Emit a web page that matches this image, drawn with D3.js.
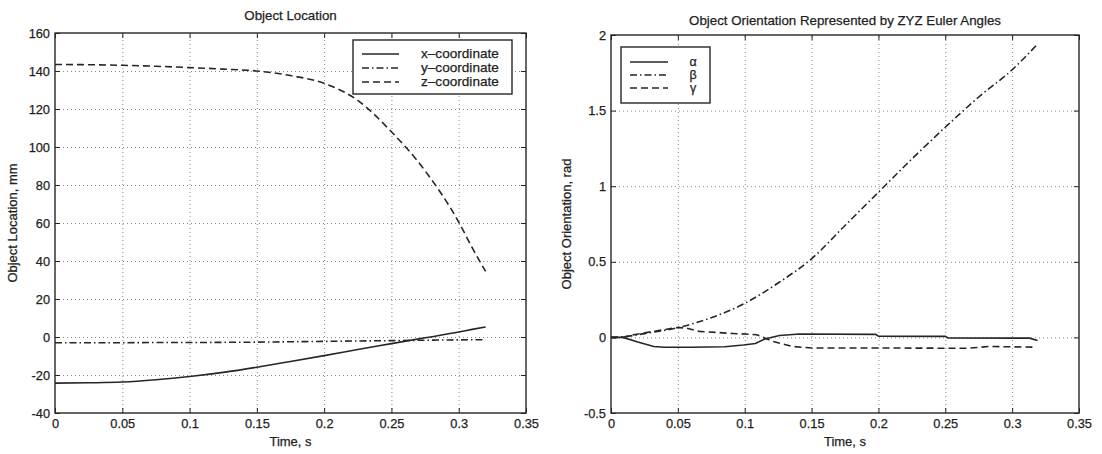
<!DOCTYPE html>
<html>
<head>
<meta charset="utf-8">
<script src="https://cdn.jsdelivr.net/npm/d3@7"></script>
<style>
  body{margin:0;background:#fff;}
  text{font-family:"Liberation Sans",Arial,Helvetica,sans-serif;fill:#1e1e1e;stroke:#1e1e1e;stroke-width:0.25;}
  .grid line{stroke:#888;stroke-dasharray:1,3;stroke-width:1;}
  .grid path{display:none;}
  .ax path{display:none;}
  .ax line{stroke:#222;stroke-width:1;}
</style>
</head>
<body>
<div id="chart"></div>
<script>
// ---- data: left panel (object location, mm) ----
const timeLoc = [0,0.025,0.05,0.075,0.1,0.125,0.15,0.175,0.2,0.225,0.25,0.275,0.3,0.31,0.32];
const xCoord  = [-24.3,-24.1,-23.7,-22.5,-20.8,-18.6,-15.9,-12.9,-9.8,-6.6,-3.5,-0.4,2.6,4.0,5.3];
const yCoord  = [-3.0,-3.0,-3.0,-2.9,-2.9,-2.8,-2.7,-2.5,-2.3,-2.1,-1.9,-1.7,-1.5,-1.45,-1.4];
const zCoord  = [143.4,143.3,143.0,142.5,141.8,141.0,140.0,137.6,133.5,124.5,108.0,87.5,60.5,47.0,34.5];

// ---- data: right panel (ZYZ Euler angles, rad) ----
const timeBeta = [0,0.01,0.025,0.05,0.075,0.1,0.125,0.15,0.175,0.2,0.225,0.25,0.275,0.3,0.318];
const beta     = [0,0.005,0.025,0.065,0.13,0.225,0.36,0.52,0.74,0.96,1.18,1.39,1.59,1.77,1.93];
const timeAlpha = [0,0.009,0.02,0.032,0.04,0.06,0.085,0.099,0.108,0.115,0.126,0.141,0.198,0.2,0.25,0.252,0.313,0.319];
const alpha     = [0,0,-0.03,-0.06,-0.065,-0.065,-0.062,-0.05,-0.04,-0.01,0.013,0.022,0.02,0.008,0.007,-0.004,-0.005,-0.02];
const timeGamma = [0,0.009,0.017,0.032,0.049,0.056,0.066,0.091,0.109,0.121,0.136,0.15,0.2,0.266,0.283,0.318];
const gamma     = [0,0,0.018,0.04,0.065,0.062,0.04,0.026,0.018,-0.027,-0.06,-0.07,-0.07,-0.072,-0.06,-0.065];

const xTicks = [0,0.05,0.1,0.15,0.2,0.25,0.3,0.35];
const yTicksLoc = [-40,-20,0,20,40,60,80,100,120,140,160];
const yTicksOri = [-0.5,0,0.5,1,1.5,2];

const legendLoc = ["x\u2013coordinate","y\u2013coordinate","z\u2013coordinate"];
const legendOri = ["\u03b1","\u03b2","\u03b3"];

const W = 1102, H = 454;
const dashes = {solid:null, dashdot:"7,3,1.5,3", dashed:"7,4"};
const ink = "#262626";

const svg = d3.select("#chart").append("svg").attr("width",W).attr("height",H);

function panel(opt){
  const g = svg.append("g");
  const x = d3.scaleLinear().domain([0,0.35]).range([opt.x0,opt.x1]);
  const y = d3.scaleLinear().domain(opt.yDomain).range([opt.y1,opt.y0]);
  const w = opt.x1-opt.x0, h = opt.y1-opt.y0;

  // grid
  g.append("g").attr("class","grid").attr("transform",`translate(0,${opt.y1})`)
    .call(d3.axisBottom(x).tickValues(xTicks.slice(1,-1)).tickSize(-h).tickFormat(""));
  g.append("g").attr("class","grid").attr("transform",`translate(${opt.x0},0)`)
    .call(d3.axisLeft(y).tickValues(opt.yTicks.slice(1,-1)).tickSize(-w).tickFormat(""));

  // series
  opt.series.forEach(s=>{
    const pts = s.t.map((t,i)=>[t,s.v[i]]);
    const line = d3.line().x(d=>x(d[0])).y(d=>y(d[1])).curve(s.smooth?d3.curveMonotoneX:d3.curveLinear);
    g.append("path").attr("d",line(pts)).attr("fill","none")
      .attr("stroke",ink).attr("stroke-width",1.6)
      .attr("stroke-dasharray",dashes[s.style]);
  });

  // axes with inward ticks on all four sides
  g.append("g").attr("class","ax").attr("transform",`translate(0,${opt.y1})`)
    .call(d3.axisBottom(x).tickValues(xTicks).tickSize(-5).tickSizeOuter(0).tickPadding(6).tickFormat(d=>String(d)))
    .selectAll("text").attr("font-size",12.8);
  g.append("g").attr("class","ax").attr("transform",`translate(0,${opt.y0})`)
    .call(d3.axisTop(x).tickValues(xTicks).tickSize(-5).tickSizeOuter(0).tickFormat(""));
  g.append("g").attr("class","ax").attr("transform",`translate(${opt.x0},0)`)
    .call(d3.axisLeft(y).tickValues(opt.yTicks).tickSize(-5).tickSizeOuter(0).tickPadding(5).tickFormat(d=>String(d)))
    .selectAll("text").attr("font-size",12.8);
  g.append("g").attr("class","ax").attr("transform",`translate(${opt.x1},0)`)
    .call(d3.axisRight(y).tickValues(opt.yTicks).tickSize(-5).tickSizeOuter(0).tickFormat(""));
  g.selectAll(".ax text").attr("font-family",null).attr("fill",null);

  g.append("rect").attr("x",opt.x0).attr("y",opt.y0).attr("width",w).attr("height",h)
    .attr("fill","none").attr("stroke",ink).attr("stroke-width",1.4);

  // labels
  g.append("text").attr("x",(opt.x0+opt.x1)/2).attr("y",opt.titleY)
    .attr("text-anchor","middle").attr("font-size",13.3).text(opt.title);
  g.append("text").attr("x",(opt.x0+opt.x1)/2).attr("y",446)
    .attr("text-anchor","middle").attr("font-size",13).text("Time, s");
  g.append("text").attr("transform",`translate(${opt.yLabelX},${(opt.y0+opt.y1)/2}) rotate(-90)`)
    .attr("text-anchor","middle").attr("font-size",13).text(opt.yLabel);

  // legend
  const L = opt.legend;
  g.append("rect").attr("x",L.x).attr("y",L.y).attr("width",L.w).attr("height",L.h)
    .attr("fill","#fff").attr("stroke",ink).attr("stroke-width",1.4);
  opt.series.forEach((s,i)=>{
    const yy = L.y+L.row0+i*L.step;
    g.append("line").attr("x1",L.x+L.s0).attr("x2",L.x+L.s1).attr("y1",yy).attr("y2",yy)
      .attr("stroke",ink).attr("stroke-width",1.6).attr("stroke-dasharray",dashes[s.style]);
    g.append("text").attr("x",L.x+L.tx).attr("y",yy).attr("dy","0.32em")
      .attr("text-anchor",L.anchor).attr("font-size",L.fs)
      .attr("font-family",L.font).text(L.labels[i]);
  });
}

panel({
  x0:55, x1:526, y0:33, y1:413, yDomain:[-40,160], yTicks:yTicksLoc,
  title:"Object Location", titleY:20, yLabel:"Object Location, mm", yLabelX:17,
  series:[
    {t:timeLoc, v:xCoord, style:"solid", smooth:true},
    {t:timeLoc, v:yCoord, style:"dashdot", smooth:true},
    {t:timeLoc, v:zCoord, style:"dashed", smooth:true}
  ],
  legend:{x:353,y:40,w:159,h:54,row0:14,step:14,s0:9,s1:46,tx:68,anchor:"start",fs:13.6,
          font:null,labels:legendLoc}
});

panel({
  x0:611, x1:1079, y0:35, y1:413, yDomain:[-0.5,2], yTicks:yTicksOri,
  title:"Object Orientation Represented by ZYZ Euler Angles", titleY:25,
  yLabel:"Object Orientation, rad", yLabelX:571,
  series:[
    {t:timeAlpha, v:alpha, style:"solid", smooth:false},
    {t:timeBeta, v:beta, style:"dashdot", smooth:true},
    {t:timeGamma, v:gamma, style:"dashed", smooth:false}
  ],
  legend:{x:621,y:47,w:89,h:56,row0:15,step:13,s0:9,s1:47,tx:72,anchor:"middle",fs:12.5,
          font:"'Liberation Serif','DejaVu Serif',serif",labels:legendOri}
});
</script>
</body>
</html>
